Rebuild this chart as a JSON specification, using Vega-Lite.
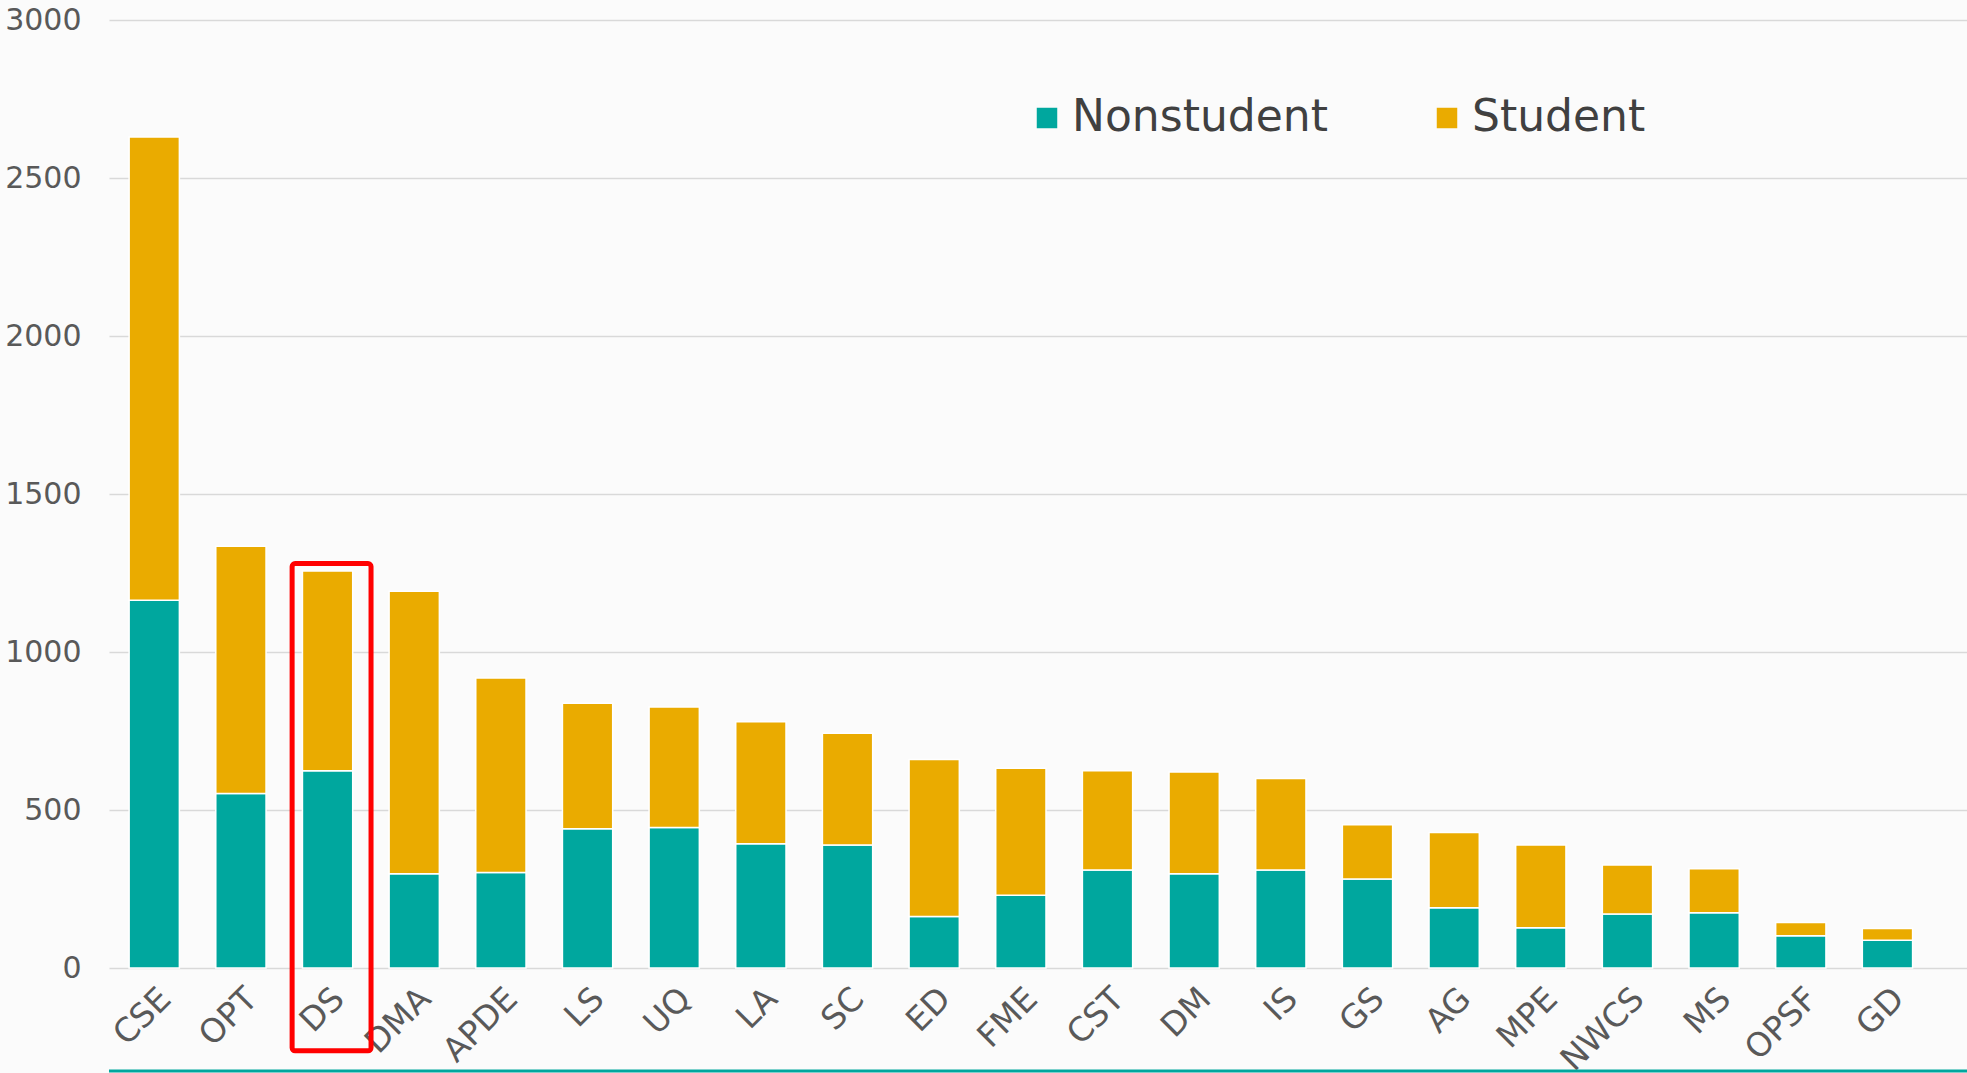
{
  "$schema": "https://vega.github.io/schema/vega-lite/v6.json",
  "width": 1858,
  "height": 948,
  "autosize": {"type": "none"},
  "padding": {"left": 109, "top": 20, "right": 0, "bottom": 105},
  "background": "#FBFBFB",
  "config": {
    "view": {"stroke": null},
    "font": "DejaVu Sans",
    "axis": {"labelFont": "DejaVu Sans", "labelColor": "#595959"},
    "legend": {"labelFont": "DejaVu Sans"}
  },
  "datasets": {
    "bars": [
      {"Category": "CSE", "Group": "Nonstudent", "Count": 1164},
      {"Category": "CSE", "Group": "Student", "Count": 1466},
      {"Category": "OPT", "Group": "Nonstudent", "Count": 552},
      {"Category": "OPT", "Group": "Student", "Count": 783},
      {"Category": "DS", "Group": "Nonstudent", "Count": 624},
      {"Category": "DS", "Group": "Student", "Count": 632},
      {"Category": "DMA", "Group": "Nonstudent", "Count": 298},
      {"Category": "DMA", "Group": "Student", "Count": 894},
      {"Category": "APDE", "Group": "Nonstudent", "Count": 302},
      {"Category": "APDE", "Group": "Student", "Count": 616},
      {"Category": "LS", "Group": "Nonstudent", "Count": 441},
      {"Category": "LS", "Group": "Student", "Count": 397},
      {"Category": "UQ", "Group": "Nonstudent", "Count": 445},
      {"Category": "UQ", "Group": "Student", "Count": 381},
      {"Category": "LA", "Group": "Nonstudent", "Count": 393},
      {"Category": "LA", "Group": "Student", "Count": 386},
      {"Category": "SC", "Group": "Nonstudent", "Count": 389},
      {"Category": "SC", "Group": "Student", "Count": 354},
      {"Category": "ED", "Group": "Nonstudent", "Count": 163},
      {"Category": "ED", "Group": "Student", "Count": 497},
      {"Category": "FME", "Group": "Nonstudent", "Count": 230},
      {"Category": "FME", "Group": "Student", "Count": 402},
      {"Category": "CST", "Group": "Nonstudent", "Count": 310},
      {"Category": "CST", "Group": "Student", "Count": 314},
      {"Category": "DM", "Group": "Nonstudent", "Count": 298},
      {"Category": "DM", "Group": "Student", "Count": 322},
      {"Category": "IS", "Group": "Nonstudent", "Count": 310},
      {"Category": "IS", "Group": "Student", "Count": 290},
      {"Category": "GS", "Group": "Nonstudent", "Count": 282},
      {"Category": "GS", "Group": "Student", "Count": 171},
      {"Category": "AG", "Group": "Nonstudent", "Count": 191},
      {"Category": "AG", "Group": "Student", "Count": 238},
      {"Category": "MPE", "Group": "Nonstudent", "Count": 127},
      {"Category": "MPE", "Group": "Student", "Count": 262},
      {"Category": "NWCS", "Group": "Nonstudent", "Count": 171},
      {"Category": "NWCS", "Group": "Student", "Count": 155},
      {"Category": "MS", "Group": "Nonstudent", "Count": 175},
      {"Category": "MS", "Group": "Student", "Count": 139},
      {"Category": "OPSF", "Group": "Nonstudent", "Count": 102},
      {"Category": "OPSF", "Group": "Student", "Count": 42},
      {"Category": "GD", "Group": "Nonstudent", "Count": 88},
      {"Category": "GD", "Group": "Student", "Count": 37}
    ],
    "highlight": [
      {"Category": "DS", "top": 1280, "bottom": -262}
    ]
  },
  "layer": [
    {
      "data": {"name": "bars"},
      "mark": {"type": "bar", "stroke": "#FFFFFF", "strokeWidth": 1.5},
      "encoding": {
        "x": {
          "field": "Category",
          "type": "nominal",
          "sort": ["CSE","OPT","DS","DMA","APDE","LS","UQ","LA","SC","ED","FME","CST","DM","IS","GS","AG","MPE","NWCS","MS","OPSF","GD"],
          "scale": {"paddingInner": 0.42, "paddingOuter": 0.43, "align": 0.27},
          "axis": {
            "title": null,
            "labelAngle": -45,
            "labelFontSize": 33,
            "labelPadding": 14,
            "ticks": false,
            "domain": false
          }
        },
        "y": {
          "field": "Count",
          "type": "quantitative",
          "stack": "zero",
          "scale": {"domain": [0, 3000], "nice": false},
          "axis": {
            "title": null,
            "values": [0, 500, 1000, 1500, 2000, 2500, 3000],
            "format": "d",
            "labelFontSize": 30,
            "labelPadding": 28,
            "ticks": false,
            "domain": false,
            "gridColor": "#D9D9D9",
            "gridWidth": 1.5
          }
        },
        "color": {
          "field": "Group",
          "type": "nominal",
          "scale": {"domain": ["Nonstudent", "Student"], "range": ["#00A79E", "#EAAB00"]},
          "legend": {
            "title": null,
            "orient": "none",
            "direction": "horizontal",
            "legendX": 916,
            "legendY": 76,
            "symbolType": "square",
            "symbolSize": 420,
            "symbolStrokeWidth": 0,
            "labelFontSize": 44,
            "labelLimit": 600,
            "labelColor": "#404040",
            "labelOffset": 3,
            "columnPadding": 97,
            "padding": 0
          }
        },
        "order": {"field": "Group", "sort": "ascending"}
      }
    },
    {
      "data": {"name": "highlight"},
      "mark": {"type": "bar", "fill": null, "filled": false, "stroke": "#FF0000", "strokeWidth": 5, "cornerRadius": 3, "width": {"band": 1.57}, "xOffset": 4},
      "encoding": {
        "x": {"field": "Category", "type": "nominal", "sort": ["CSE","OPT","DS","DMA","APDE","LS","UQ","LA","SC","ED","FME","CST","DM","IS","GS","AG","MPE","NWCS","MS","OPSF","GD"]},
        "y": {"field": "top", "type": "quantitative"},
        "y2": {"field": "bottom"}
      }
    },
    {
      "data": {"values": [{"y": -326}]},
      "mark": {"type": "rule", "stroke": "#00A79E", "strokeWidth": 3},
      "encoding": {"y": {"field": "y", "type": "quantitative"}}
    }
  ]
}
